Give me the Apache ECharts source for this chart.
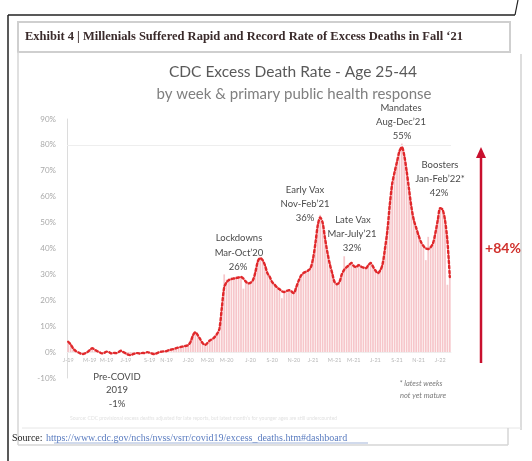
<!DOCTYPE html>
<html>
<head>
<meta charset="utf-8">
<script src="https://cdn.jsdelivr.net/npm/echarts@6/dist/echarts.min.js"></script>
<style>
html,body{margin:0;padding:0;background:#fff;}
#chart{width:532px;height:461px;}
</style>
</head>
<body>
<div id="chart"></div>
<script>
// ---- data ----
var startDate = '2019-01-05';   // first week ending
var tickWeeks  = [0, 9, 16, 24, 34, 41, 50, 58, 66, 76, 85, 94, 102, 111, 119, 128, 137, 146, 155];
var tickLabels = ['J-19','M-19','M-19','J-19','S-19','N-19','J-20','M-20','M-20','J-20','S-20','N-20','J-21','M-21','M-21','J-21','S-21','N-21','J-22'];

// weekly smoothed excess death rate (%), dotted red line
var lineValues = [
  4.0, 3.0, 1.5, 0.5, 0.0, -0.5, -0.8, -0.5, 0.0, 0.8,
  1.5, 1.0, 0.4, 0.0, -0.5, -0.3, 0.2, 0.0, -0.5, -0.3,
  -0.4, 0.0, 0.5, 0.0, -0.5, -1.0, -1.2, -0.8, -0.5, -0.4,
  -0.6, -0.3, -0.4, 0.0, -0.3, -0.6, -0.8, -0.4, 0.0, 0.2,
  0.3, 0.4, 0.8, 1.0, 1.2, 1.5, 1.8, 2.0, 2.2, 2.4,
  2.7, 4.0, 6.5, 7.7, 6.5, 5.0, 3.5, 2.8, 3.5, 4.5,
  5.0, 5.8, 7.0, 9.0, 17.0, 25.0, 27.0, 27.8, 28.2, 28.4,
  28.6, 28.8, 29.0, 28.4, 27.2, 26.5, 26.8, 27.8, 30.9, 35.0,
  36.3, 35.5, 33.5, 30.5, 29.0, 27.0, 26.0, 25.0, 24.3, 23.5,
  23.2, 23.6, 23.9, 23.4, 22.8, 25.0, 27.5, 29.5, 30.5, 31.0,
  31.5, 32.5, 36.0, 42.0, 49.0, 52.0, 50.0, 44.0, 38.5, 34.0,
  30.5, 27.0, 26.2, 27.0, 30.0, 31.8, 32.8, 33.6, 34.4, 33.2,
  32.8, 33.6, 33.0, 32.6, 32.4, 33.5, 34.4, 33.0, 31.5, 30.5,
  31.5, 34.0, 40.0, 47.0, 57.0, 65.0, 69.5, 73.5, 77.5, 79.2,
  76.0, 70.0, 63.0, 56.0, 51.0, 48.0, 45.0, 42.5, 41.0, 40.0,
  39.8, 40.5, 42.0, 46.0, 51.0, 55.6, 55.0, 51.0, 43.0, 29.0
];
// weekly raw excess death rate (%), pale bars
var barValues = [
  4.0, 3.0, 1.5, 0.5, 0.0, -0.5, -0.8, -0.5, 0.0, 0.8,
  1.5, 1.0, 0.4, 0.0, -0.5, -0.3, 0.2, 0.0, -0.5, -0.3,
  -0.4, 0.0, 0.5, 0.0, -0.5, -1.0, -1.2, -0.8, -0.5, -0.4,
  -0.6, -0.3, -0.4, 0.0, -0.3, -0.6, -0.8, -0.4, 0.0, 0.2,
  0.3, 0.4, 0.8, 1.0, 1.2, 1.5, 1.8, 2.0, 2.2, 2.4,
  2.7, 4.0, 6.5, 7.7, 6.5, 5.0, 3.5, 2.8, 3.5, 4.5,
  5.0, 5.8, 7.0, 9.0, 17.0, 30.0, 28.0, 28.5, 28.8, 29.0,
  29.2, 29.3, 29.4, 24.5, 27.8, 27.0, 27.3, 28.4, 31.5, 35.5,
  36.8, 36.0, 34.0, 31.0, 29.5, 27.5, 26.5, 25.5, 24.8, 20.8,
  23.7, 24.1, 24.4, 23.9, 23.3, 25.5, 28.0, 30.0, 31.0, 31.5,
  32.0, 33.0, 36.5, 42.5, 49.5, 53.0, 50.5, 44.5, 39.0, 34.5,
  31.0, 27.5, 26.7, 27.5, 30.5, 37.0, 33.3, 34.1, 34.9, 33.7,
  33.3, 34.1, 33.5, 33.1, 32.9, 34.0, 34.9, 33.5, 32.0, 31.0,
  32.0, 34.5, 40.5, 47.5, 57.5, 65.5, 70.0, 74.0, 78.0, 80.5,
  76.5, 70.5, 63.5, 56.5, 51.5, 48.5, 45.5, 43.0, 41.5, 35.5,
  44.5, 41.0, 42.5, 46.5, 51.5, 56.0, 55.5, 51.5, 26.0, 29.5
];

var yMin = -10, yMax = 90, yStep = 10;

// ---- build categories (week endings) ----
var categories = [];
(function(){
  var d = new Date(startDate + 'T00:00:00Z');
  for (var i = 0; i < lineValues.length; i++) {
    var c = new Date(d.getTime() + i * 7 * 86400000);
    categories.push(c.toISOString().slice(0,10));
  }
})();

var gridTop = 119, gridHeight = 259;
// place the category axis on the 0% level
var zeroOffset = -gridHeight * (0 - yMin) / (yMax - yMin);

var chart = echarts.init(document.getElementById('chart'), null, {renderer:'canvas'});

var serif = '"Liberation Serif","DejaVu Serif",serif';
var sans = 'Lato,"Open Sans","Liberation Sans",sans-serif';
var annColor = '#4a4a4a';

function t(x, y, text, opt) {
  opt = opt || {};
  return {
    type: 'text', x: x, y: y, silent: true, z: 20,
    style: {
      text: text,
      fill: opt.fill || annColor,
      font: (opt.style || '') + ' ' + (opt.weight || 'normal') + ' ' + (opt.size || 10) + 'px ' + (opt.family || sans),
      textAlign: opt.align || 'center',
      textVerticalAlign: 'middle'
    }
  };
}

var graphics = [
  // outer black frame
  {type:'line', shape:{x1:8,y1:15,x2:515,y2:15}, style:{stroke:'#222',lineWidth:1.5}, silent:true},
  {type:'line', shape:{x1:515,y1:15,x2:518,y2:0}, style:{stroke:'#222',lineWidth:1.2}, silent:true},
  {type:'line', shape:{x1:8,y1:15,x2:8,y2:461}, style:{stroke:'#222',lineWidth:1.5}, silent:true},
  // table boxes
  {type:'rect', shape:{x:18,y:22,width:492,height:30}, style:{fill:'none',stroke:'#cfcfcf',lineWidth:2}, silent:true},
  {type:'line', shape:{x1:18,y1:52,x2:18,y2:445}, style:{stroke:'#d6d6d6',lineWidth:1.5}, silent:true},
  {type:'line', shape:{x1:521,y1:54,x2:521,y2:430}, style:{stroke:'#d2d2d2',lineWidth:1.5}, silent:true},
  {type:'line', shape:{x1:22,y1:428,x2:521,y2:428}, style:{stroke:'#e6e6e6',lineWidth:1}, silent:true},
  {type:'line', shape:{x1:508,y1:428,x2:508,y2:445}, style:{stroke:'#d6d6d6',lineWidth:1.5}, silent:true},
  {type:'line', shape:{x1:18,y1:445,x2:508,y2:445}, style:{stroke:'#d6d6d6',lineWidth:1.5}, silent:true},
  t(25, 37, 'Exhibit 4 | Millenials Suffered Rapid and Record Rate of Excess Deaths in Fall \u201821',
    {align:'left', family: serif, weight:'bold', size:12.5, fill:'#3a2b2b'}),
  // chart titles
  t(293, 72, 'CDC Excess Death Rate - Age 25-44', {size:15.5, fill:'#595959'}),
  t(294, 94, 'by week & primary public health response', {size:15, fill:'#7f7f7f'}),
  // annotations
  t(239, 238, 'Lockdowns', {size:9.5}),
  t(239, 253, 'Mar-Oct\u201920', {size:9.5}),
  t(238, 267, '26%', {size:9.5}),
  t(305, 190, 'Early Vax', {size:9.5}),
  t(305, 204, 'Nov-Feb\u201921', {size:9.5}),
  t(305, 218, '36%', {size:9.5}),
  t(353, 220, 'Late Vax', {size:9.5}),
  t(352, 234, 'Mar-July\u201921', {size:9.5}),
  t(352, 248, '32%', {size:9.5}),
  t(401, 108, 'Mandates', {size:9.5}),
  t(401, 122, 'Aug-Dec\u201921', {size:9.5}),
  t(402, 136, '55%', {size:9.5}),
  t(440, 165, 'Boosters', {size:9.5}),
  t(440, 179, 'Jan-Feb\u201922*', {size:9.5}),
  t(439, 193, '42%', {size:9.5}),
  t(117, 377, 'Pre-COVID', {size:9.5}),
  t(117, 390, '2019', {size:9.5}),
  t(117, 404, '-1%', {size:9.5}),
  t(421, 384, '* latest weeks', {size:7.5, style:'italic', fill:'#7a7a7a'}),
  t(423, 396, 'not yet mature', {size:7.5, style:'italic', fill:'#7a7a7a'}),
  t(70, 418, 'Source: CDC provisional excess deaths adjusted for late reports, but latest month\u2019s for younger ages are still undercounted',
    {align:'left', size:5, fill:'#e2e2e2'}),
  // +84% arrow
  {type:'line', shape:{x1:481,y1:156,x2:481,y2:363}, style:{stroke:'#c8102e',lineWidth:2.5}, silent:true, z:20},
  {type:'polygon', shape:{points:[[481,147],[476,158],[486,158]]}, style:{fill:'#c8102e'}, silent:true, z:20},
  t(503, 248, '+84%', {size:14, weight:'bold', fill:'#d0312d'}),
  // source
  {
    type:'text', x:12, y:438, silent:true, z:20,
    style:{
      rich:{
        s:{fill:'#222', font:'10px ' + serif},
        u:{fill:'#5a7cc0', font:'10px ' + serif}
      },
      text:'{s|Source:} {u|https://www.cdc.gov/nchs/nvss/vsrr/covid19/excess_deaths.htm#dashboard}',
      textVerticalAlign:'middle'
    }
  },
  {type:'line', shape:{x1:54,y1:443,x2:368,y2:443}, style:{stroke:'#7b96c9',lineWidth:0.7}, silent:true, z:20}
];

var option = {
  animation: false,
  backgroundColor: '#fff',
  grid: { left: 67, top: gridTop, width: 384, height: gridHeight, containLabel: false },
  xAxis: {
    type: 'category',
    data: categories,
    boundaryGap: true,
    position: 'bottom',
    offset: zeroOffset,
    axisLine: { show: true, onZero: false, lineStyle: { color: '#efefef', width: 1 } },
    axisTick: { show: false },
    axisLabel: {
      interval: function (idx) { return tickWeeks.indexOf(idx) >= 0; },
      formatter: function (v, idx) { var k = tickWeeks.indexOf(idx); return k >= 0 ? tickLabels[k] : ''; },
      color: '#b8b8b8', fontSize: 5.5, margin: 5, fontFamily: sans
    },
    splitLine: { show: false }
  },
  yAxis: {
    type: 'value',
    min: yMin, max: yMax, interval: yStep,
    axisLine: { show: true, lineStyle: { color: '#dcdcdc', width: 1 } },
    axisTick: { show: false },
    axisLabel: { formatter: '{value}%', color: '#a9a9a9', fontSize: 8, margin: 11, fontFamily: sans },
    splitLine: { show: false }
  },
  series: [
    {
      type: 'bar',
      data: barValues,
      barWidth: '72%',
      itemStyle: { color: '#f6c6ca' },
      silent: true,
      z: 2,
      markLine: {
        silent: true, symbol: 'none', label: { show: false },
        lineStyle: { color: '#eeeeee', type: 'solid', width: 1 },
        data: [{ yAxis: 80 }]
      }
    },
    {
      type: 'line',
      data: lineValues,
      smooth: 0.3,
      symbol: 'none',
      lineStyle: { color: '#e0282b', width: 2.4, type: [2.5, 2.5], cap: 'round' },
      silent: true,
      z: 5
    }
  ],
  graphic: graphics
};
chart.setOption(option);
</script>
</body>
</html>
